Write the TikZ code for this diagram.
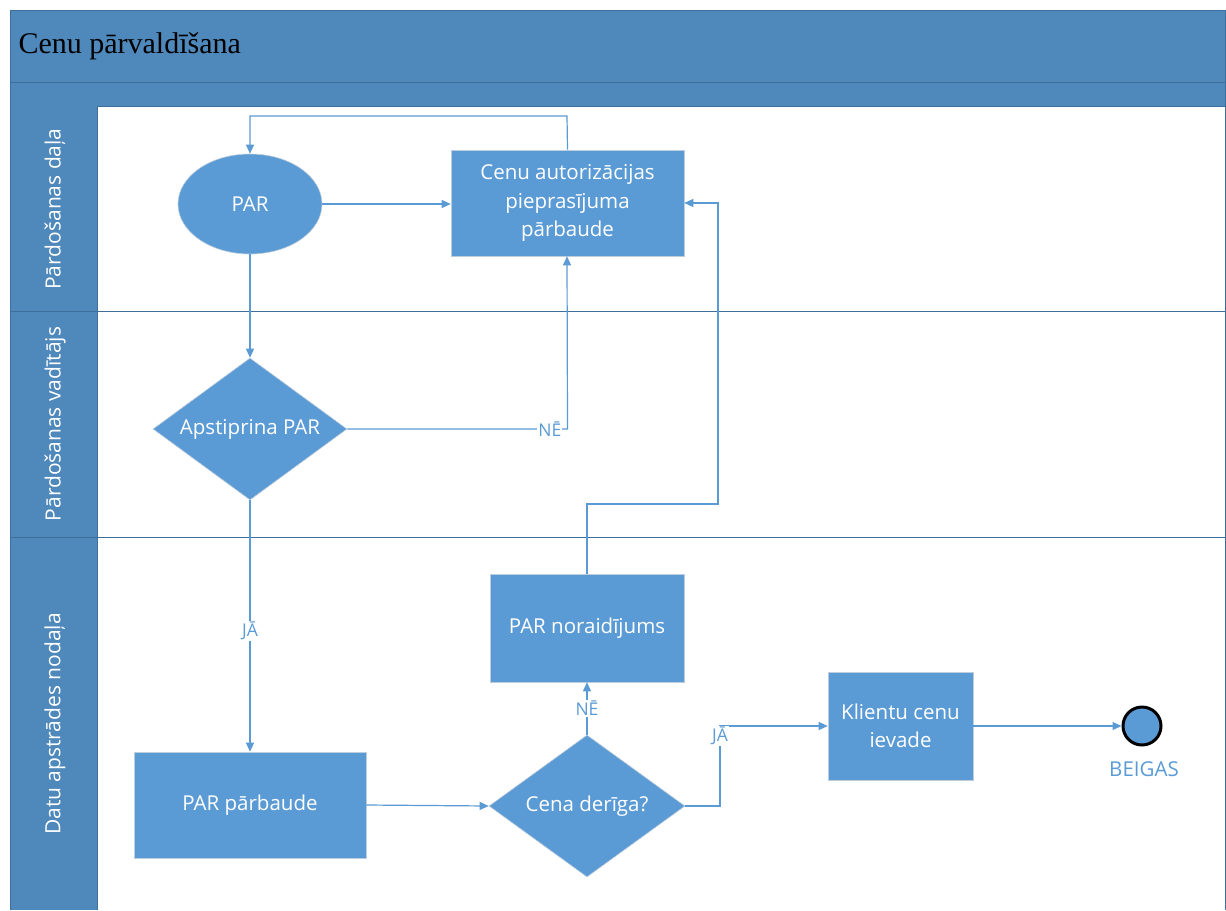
\documentclass[tikz,border=0pt]{standalone}
\usepackage{fontspec}
\setmainfont{Open Sans}
\newfontfamily\titlefont{Liberation Serif}
\usetikzlibrary{shapes.geometric,arrows.meta}
\definecolor{pool}{RGB}{79,136,187}
\definecolor{pooledge}{RGB}{62,110,155}
\definecolor{nodeblue}{RGB}{91,155,213}
\definecolor{nodeedge}{RGB}{190,205,220}
\begin{document}
\begin{tikzpicture}[x=1pt,y=-1pt,
  every node/.style={font=\fontsize{20.5}{28.5}\selectfont},
  shp/.style={fill=nodeblue, draw=nodeedge, line width=0.6pt, text=white, align=center, inner sep=2pt},
  proc/.style={shp, rectangle, minimum width=233pt, minimum height=106pt},
  dec/.style={shp, diamond, aspect=1.37, minimum width=194pt, minimum height=142pt, inner sep=0pt},
  flow/.style={draw=nodeblue, line width=1.2pt, -{Triangle[length=9pt,width=8pt]}},
  lbl/.style={fill=white, text=nodeblue, font=\fontsize{17.5}{20}\selectfont, inner sep=1pt},
  lanetext/.style={rotate=90, text=white, font=\fontsize{21}{24}\selectfont},
  laneline/.style={draw=pooledge, line width=1pt}
]
% canvas
\fill[white] (0,0) rectangle (1226,910);
% pool header
\fill[pool] (10,10) rectangle (1225,106);
\draw[laneline] (10,82) -- (1225,82);
\draw[laneline] (10,10) -- (1225,10);
\draw[laneline] (10,106) -- (1225,106);
% lane label column
\fill[pool] (10,106) rectangle (97,910);
\draw[laneline] (10,10) -- (10,910);
\draw[laneline] (97,106) -- (97,910);
\draw[laneline] (1225,10) -- (1225,910);
\draw[laneline] (10,311) -- (1225,311);
\draw[laneline] (10,537) -- (1225,537);
% title
\node[anchor=west, font=\titlefont\fontsize{30}{34}\selectfont] (title) at (15,46) {Cenu pārvaldīšana};
% lane labels
\node[lanetext] (l1) at (55,209) {Pārdošanas daļa};
\node[lanetext] (l2) at (55,424) {Pārdošanas vadītājs};
\node[lanetext] (l3) at (55,724) {Datu apstrādes nodaļa};
% nodes
\node[shp, ellipse, minimum width=144pt, minimum height=100pt] (par) at (250,204) {PAR};
\node[proc] (cap) at (567.5,203) {Cenu autorizācijas\\pieprasījuma\\pārbaude};
\node[dec] (apr) at (250,429) {Apstiprina PAR};
\node[proc, minimum width=194pt, minimum height=108pt] (nor) at (587,628) {PAR noraidījums};
\node[proc, minimum width=232pt] (ppb) at (250,805) {PAR pārbaude};
\node[dec, minimum width=196pt] (cena) at (587,806) {Cena derīga?};
\node[proc, minimum width=145pt, minimum height=108pt] (kl) at (900.5,726) {Klientu cenu\\ievade};
\node[circle, fill=nodeblue, draw=black, line width=3pt, minimum size=38pt, inner sep=0pt] (end) at (1142,726) {};
\node[text=nodeblue, font=\fontsize{20.5}{24}\selectfont] (endlbl) at (1144,769) {BEIGAS};
% connectors
\draw[flow] (cap.north) -- (567,116) -| (par.north);
\draw[flow] (par.east) -- (cap.west |- par.east);
\draw[flow] (par.south) -- (apr.north);
\draw[flow] (apr.east) -- node[lbl, pos=0.92]{NĒ} (apr.east -| cap.south) -- (cap.south -| 567,0);
\draw[flow] (apr.south) -- node[lbl, pos=0.52]{JĀ} (ppb.north);
\draw[flow] (ppb.east) -- (cena.west);
\draw[flow] (cena.north) -- node[lbl, pos=0.5]{NĒ} (nor.south);
\draw[flow] (cena.east) -- (720,806) |- node[lbl, pos=0.44]{JĀ} (kl.west);
\draw[flow] (nor.north) |- (718,504) |- (cap.east);
\draw[flow] (kl.east) -- (end.west);
\end{tikzpicture}
\end{document}
